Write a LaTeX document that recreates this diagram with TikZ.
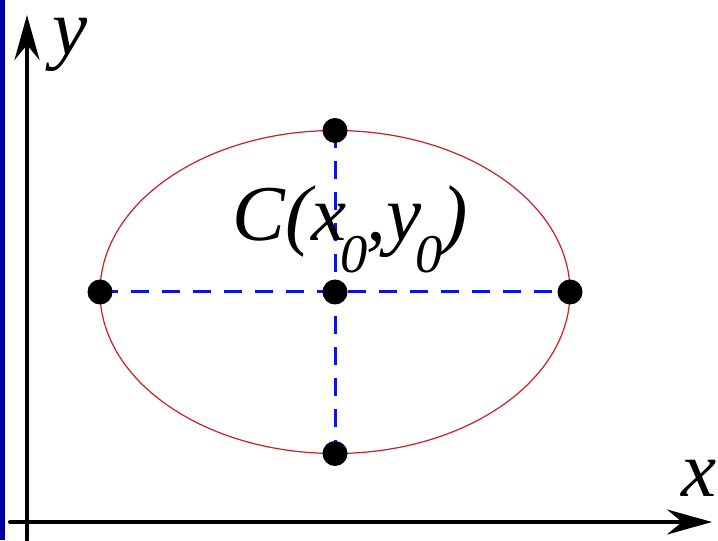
\documentclass[tikz,border=0pt]{standalone}
\usepackage{fontspec}
\setmainfont{Liberation Serif}
\usetikzlibrary{arrows.meta}

\definecolor{nenxanh}{RGB}{0,0,160}
\definecolor{doelip}{RGB}{205,35,40}
\definecolor{xanhnet}{RGB}{10,20,230}

\newcommand{\chiduoi}[1]{\kern-0.07em\raisebox{-0.4em}{\fontsize{31}{33}\selectfont #1}\kern-0.02em}

\tikzset{
	diem/.style={circle, fill=black, inner sep=0pt, minimum size=5mm},
	netdut/.style={xanhnet, line width=0.06cm, line cap=butt, dash pattern=on 0.36cm off 0.26cm},
	nhan/.style={font=\fontsize{45}{50}\selectfont\itshape, inner sep=0pt}
}

\begin{document}
\begin{tikzpicture}[line cap=round, line join=round, >={Stealth[length=9mm, width=5mm, inset=3mm]}]
	
	% Khai báo giới hạn cửa sổ vẽ
	\def\xmin{-0.54} \def\xmax{13.82}
	\def\ymin{-0.36} \def\ymax{10.44}
	\useasboundingbox (\xmin,\ymin) rectangle (\xmax,\ymax);
	
	% Dải màu xanh bên trái
	\fill[nenxanh] (\xmin,\ymin) rectangle (-0.44,\ymax);
	
	% Trục tọa độ
	\coordinate (xdau) at (-0.34,0);
	\coordinate (xcuoi) at (13.7,0);
	\coordinate (ydau) at (0,\ymin);
	\coordinate (ycuoi) at (0,10.14);
	\draw[->, line width=0.08cm] (xdau) -- (xcuoi);
	\draw[->, line width=0.08cm] (ydau) -- (ycuoi);
	\node[nhan] (nhanx) at (13.44,0.88) {x};
	\node[nhan] (nhany) at (0.86,9.54) {y};
	
	% Elip tâm C, bán trục 4.7 và 3.23
	\coordinate (tam) at (6.16,4.6);
	\coordinate (tren) at (6.16,7.83);
	\coordinate (duoi) at (6.16,1.37);
	\coordinate (trai) at (1.46,4.6);
	\coordinate (phai) at (10.86,4.6);
	\draw[doelip, line width=0.7pt] (tam) ellipse [x radius=4.7, y radius=3.23];
	
	% Các đường nét đứt
	\draw[netdut] (trai) -- (phai);
	\draw[netdut] (tren) -- (duoi);
	
	% Các điểm
	\node[diem] (Dtam) at (tam) {};
	\node[diem] (Dtren) at (tren) {};
	\node[diem] (Dduoi) at (duoi) {};
	\node[diem] (Dtrai) at (trai) {};
	\node[diem] (Dphai) at (phai) {};
	
	% Nhãn tâm
	\node[nhan, anchor=base west] (nhanC) at (4.1,5.62)
	{C(x\chiduoi{0},y\chiduoi{0})};
	
\end{tikzpicture}
\end{document}
